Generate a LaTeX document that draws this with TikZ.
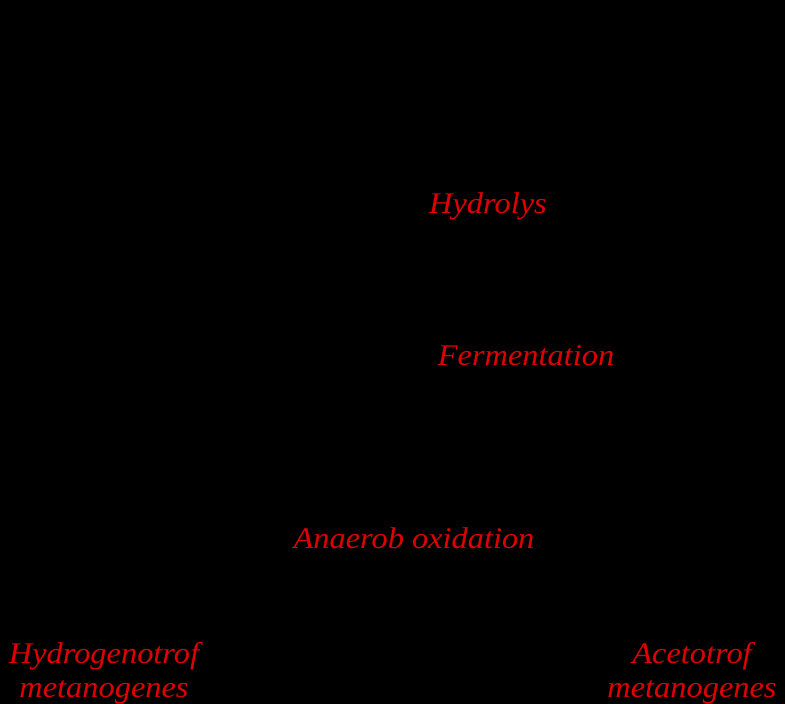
\documentclass[tikz,border=0pt]{standalone}
\usepackage{fontspec}
\usepackage{xcolor}
\setmainfont{Liberation Serif}
\newfontfamily\stepfont[FakeStretch=1.08]{Liberation Serif}
\definecolor{labelred}{RGB}{225,0,0}

\begin{document}
\begin{tikzpicture}
		[x=1pt,y=-1pt,
		stage/.style={text=labelred,font=\stepfont\itshape\fontsize{30}{34}\selectfont,inner sep=0pt,anchor=base,align=center}]
		\fill [black] (0,0) rectangle (785,704);
		\useasboundingbox (0,0) rectangle (785,704);

		\node [stage] (hydrolys) at (488,213) {Hydrolys};
		\node [stage] (ferment) at (526,365) {Fermentation};
		\node [stage] (anaerob) at (414,548) {Anaerob oxidation};

		\node [stage] (hydrogeno) at (104,697) {Hydrogenotrof\\metanogenes};
		\node [stage] (aceto) at (692,697) {Acetotrof\\metanogenes};
	\end{tikzpicture}
\end{document}
